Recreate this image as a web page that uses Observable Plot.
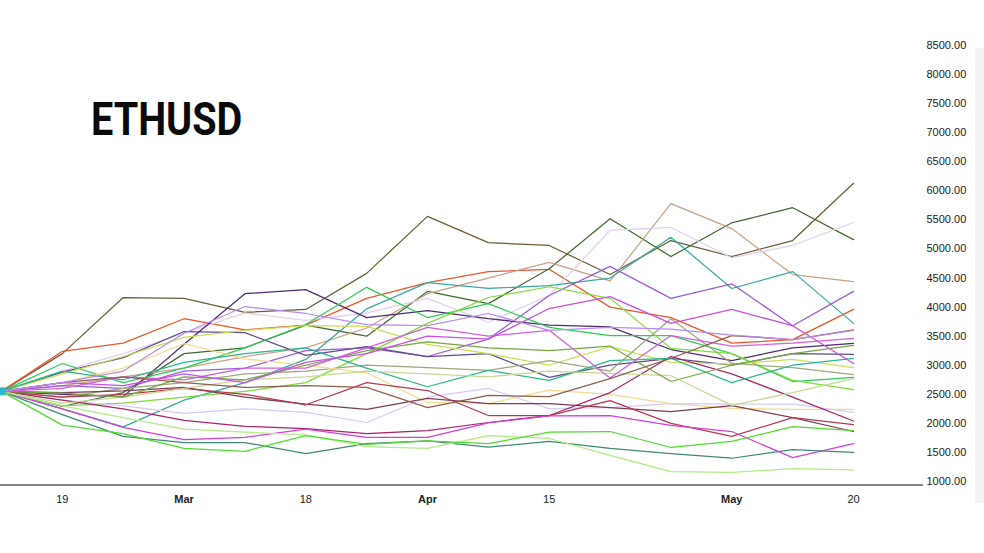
<!DOCTYPE html>
<html>
<head>
<meta charset="utf-8">
<script src="https://cdn.jsdelivr.net/npm/d3@7"></script>
<script src="https://cdn.jsdelivr.net/npm/@observablehq/plot@0.6"></script>
<style>
  html, body { margin: 0; padding: 0; background: #ffffff; }
  #wrap { position: relative; width: 984px; height: 553px; overflow: hidden; background: #fff; }
  #title { position: absolute; left: 91px; top: 96px; font-family: Roboto, "Liberation Sans", sans-serif;
           font-weight: 700; font-size: 46px; line-height: 46px; color: #0a0a0a;
           transform: scaleX(0.86); transform-origin: left top; white-space: nowrap; }
  #band { position: absolute; left: 975px; top: 48px; width: 9px; height: 455px; background: #f3f3f7; }
  svg { position: absolute; left: 0; top: 0; }
</style>
</head>
<body>
<div id="wrap">
  <div id="band"></div>
  <div id="title">ETHUSD</div>
</div>
<script>
// Weekly dates
const dates = ["2024-02-12","2024-02-19","2024-02-26","2024-03-04","2024-03-11","2024-03-18","2024-03-25",
               "2024-04-01","2024-04-08","2024-04-15","2024-04-22","2024-04-29","2024-05-06","2024-05-13","2024-05-20"];

// Series values (ETHUSD paths)
const s01 = [2550, 3200, 4165, 4150, 3910, 3960, 4580, 5560, 5110, 5060, 4560, 5145, 4870, 5145, 6130];
const s02 = [2550, 3240, 3380, 3800, 3610, 3690, 4150, 4420, 4610, 4650, 4000, 3820, 3380, 3440, 3960];
const s03 = [2550, 2290, 2530, 3200, 3300, 3690, 3500, 4270, 4060, 4660, 5520, 4870, 5450, 5710, 5160];
const s04 = [2550, 2650, 2800, 2950, 3150, 3300, 3640, 4230, 4500, 4770, 4450, 5780, 5350, 4560, 4440];
const s05 = [2550, 2900, 3200, 3550, 3900, 3770, 3900, 4150, 3740, 4200, 5320, 5370, 4850, 5060, 5455];
const s06 = [2550, 2250, 1940, 2400, 2700, 3100, 3970, 4420, 4320, 4370, 4500, 5200, 4320, 4610, 3720];
const s07 = [2550, 2650, 2600, 2900, 2950, 3250, 3300, 3150, 3450, 4200, 4700, 4150, 4400, 3680, 4270];
const s08 = [2550, 2880, 3130, 3580, 3560, 3170, 3320, 3150, 3200, 2790, 3000, 3120, 3000, 3200, 3185];
const s09 = [2550, 2500, 2460, 3360, 4230, 4300, 3820, 3940, 3800, 3690, 3660, 3270, 3080, 3300, 3374];
const s10 = [2550, 3030, 2700, 2950, 3300, 3700, 4340, 3820, 4060, 3650, 3510, 3510, 3200, 2720, 2790];
const s11 = [2550, 2300, 2350, 2450, 2550, 2700, 3200, 3720, 4165, 4350, 4150, 3290, 3200, 2740, 2580];
const s12 = [2550, 2850, 3150, 3480, 3600, 3680, 3670, 3360, 3200, 3000, 3320, 3050, 3020, 3100, 2960];
const s13 = [2550, 2450, 2600, 2700, 2850, 2900, 3000, 2960, 2910, 3080, 2900, 3800, 3030, 2960, 2840];
const s14 = [2550, 2700, 2950, 3370, 3110, 3000, 2870, 2360, 2340, 2570, 2500, 2340, 2260, 2240, 2240];
const s15 = [2550, 2400, 2300, 2170, 2250, 2190, 2015, 2450, 2600, 2255, 2270, 2340, 2330, 2330, 2190];
const s16 = [2550, 2530, 2560, 2620, 2450, 2330, 2240, 2430, 2340, 2340, 2270, 2200, 2305, 2100, 1860];
const s17 = [2550, 2450, 2500, 2600, 2500, 2320, 2700, 2565, 2135, 2135, 2390, 2000, 1775, 2100, 1980];
const s18 = [2550, 2400, 2250, 2050, 1950, 1910, 1825, 1875, 2015, 2135, 2530, 3150, 2850, 2450, 2040];
const s19 = [2550, 2250, 1930, 1720, 1760, 1900, 1760, 1760, 2010, 2130, 2135, 1965, 1860, 1410, 1650];
const s20 = [2550, 2150, 1775, 1670, 1670, 1480, 1650, 1700, 1590, 1690, 1570, 1480, 1400, 1550, 1500];
const s21 = [2550, 2300, 2100, 1900, 1850, 1800, 1600, 1570, 1790, 1740, 1450, 1170, 1155, 1220, 1200];
const s22 = [2550, 1970, 1825, 1570, 1520, 1790, 1640, 1700, 1650, 1850, 1860, 1585, 1690, 1945, 1875];
const s23 = [2550, 2900, 2750, 3050, 3200, 3300, 2950, 2630, 2910, 2740, 3080, 3120, 2700, 3000, 3116];
const s24 = [2550, 2350, 2450, 2600, 2750, 2800, 2900, 2850, 2800, 2900, 2860, 2820, 2310, 2530, 2770];
const s25 = [2550, 2520, 2450, 2800, 2750, 3000, 3250, 3400, 3300, 3250, 3330, 2720, 3000, 3200, 3340];
const s26 = [2550, 2600, 2800, 2750, 2950, 2950, 3300, 3650, 3500, 3600, 2780, 3510, 3330, 3380, 3460];
const s27 = [2550, 2700, 2800, 2700, 2620, 2650, 2620, 2270, 2480, 2460, 2770, 3120, 3510, 3440, 3610];
const s28 = [2550, 2700, 2650, 2850, 2700, 3050, 3200, 3500, 3450, 3975, 4180, 3720, 3960, 3680, 3030];
const s29 = [2550, 2700, 2900, 3550, 4010, 3890, 3700, 3680, 3890, 3600, 3650, 3620, 3520, 3440, 3600];

const seriesList = [s01,s02,s03,s04,s05,s06,s07,s08,s09,s10,s11,s12,s13,s14,s15,s16,s17,s18,s19,s20,s21,s22,s23,s24,s25,s26,s27,s28,s29];
const seriesColors = ["#6b5d36","#e8572a","#3f6b2f","#c9a089","#e3cdf5","#3aa9a3","#9c5bd8","#5e4c8c","#4e2c6e",
                      "#2ecc55","#7ddc3a","#c8e055","#9ea87c","#f3da8c","#d6cbf7","#7b3f50","#b8384f","#a8246a",
                      "#d040d8","#3f8a74","#b2ec84","#4fdc2c","#26b889","#c6d993","#74a843","#d35ee0","#8e5f4d",
                      "#c94fe3","#b68cf0"];

// Axis ticks
const yTicks = [1000,1500,2000,2500,3000,3500,4000,4500,5000,5500,6000,6500,7000,7500,8000,8500];
const dayTickDates = ["2024-02-19","2024-03-18","2024-04-15","2024-05-20"];
const dayTickLabels = ["19","18","15","20"];
const monthTickDates = ["2024-03-04","2024-04-01","2024-05-06"];
const monthTickLabels = ["Mar","Apr","May"];

const parse = d3.utcParse("%Y-%m-%d");
const dateObjs = dates.map(parse);
const dayTicks = dayTickDates.map(parse);
const monthTicks = monthTickDates.map(parse);
const labelFor = (ticks, labels) => d => labels[ticks.findIndex(t => +t === +d)];

const lineMarks = seriesList.map((vals, i) =>
  Plot.line(vals.map((v, k) => ({date: dateObjs[k], value: v})),
    {x: "date", y: "value", stroke: seriesColors[i], strokeWidth: 1.25, curve: "linear"})
);

const start = [{date: dateObjs[0], value: seriesList[0][0]}];

const W = 984, H = 553, mR = 63, mB = 68;
const chart = Plot.plot({
  width: W, height: H,
  marginLeft: 0, marginRight: mR, marginTop: 20, marginBottom: mB,
  x: {type: "utc", domain: [dateObjs[0], dateObjs[dateObjs.length - 1]], range: [1, 853]},
  y: {domain: [1000, 8500], range: [481, 45]},
  style: {fontFamily: "'Liberation Sans', Arial, sans-serif", fontSize: "11px", color: "#222", background: "transparent", overflow: "visible"},
  marks: [
    Plot.axisY(yTicks, {anchor: "right", tickSize: 0, tickPadding: 5, tickFormat: d3.format(".2f"), label: null}),
    Plot.axisX(dayTicks, {anchor: "bottom", tickSize: 0, tickPadding: 10, tickFormat: labelFor(dayTicks, dayTickLabels), label: null}),
    Plot.axisX(monthTicks, {anchor: "bottom", tickSize: 0, tickPadding: 10, tickFormat: labelFor(monthTicks, monthTickLabels), fontWeight: "bold", label: null}),
    ...lineMarks,
    Plot.dot(start, {x: "date", y: "value", r: 4.5, fill: "#2bb5cf", symbol: "square"})
  ]
});

// bottom axis line along the frame edge
d3.select(chart).append("line")
  .attr("x1", 0).attr("x2", W - mR + 2)
  .attr("y1", H - mB).attr("y2", H - mB)
  .attr("stroke", "#5a5a5a").attr("stroke-width", 1.5);

document.getElementById("wrap").appendChild(chart);
</script>
</body>
</html>
